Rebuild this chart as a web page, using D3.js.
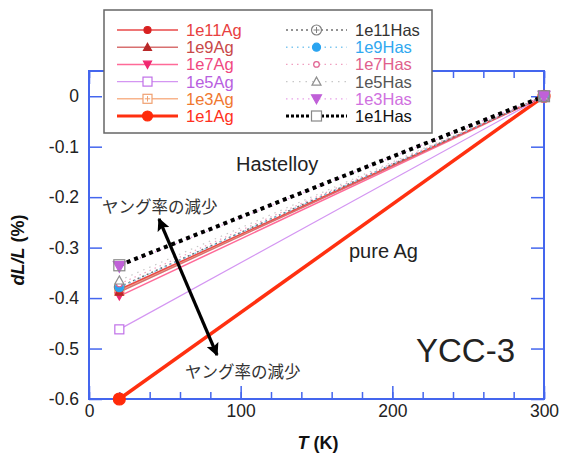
<!DOCTYPE html>
<html><head><meta charset="utf-8">
<script src="https://cdn.jsdelivr.net/npm/d3@7"></script>
<style>body{margin:0;background:#fff}svg{display:block}</style>
</head><body>
<svg id="c" width="561" height="453"></svg>
<script>
// Data
const temps = [20, 300];
const seriesNames = ["1e11Ag","1e9Ag","1e7Ag","1e5Ag","1e3Ag","1e1Ag","1e11Has","1e9Has","1e7Has","1e5Has","1e3Has","1e1Has"];
const startValues = [-0.383,-0.388,-0.396,-0.462,-0.385,-0.600,-0.378,-0.379,-0.372,-0.365,-0.337,-0.335];
const endValues   = [0,0,0,0,0,0,0,0,0,0,0,0];
const xTicks = [0,100,200,300];
const yTicks = [0,-0.1,-0.2,-0.3,-0.4,-0.5,-0.6];

// Styles
const styles = {
 "1e11Ag":{line:"#e84848",w:1.5,dash:null,mk:"circle",fill:"#d82020",stroke:"#d82020",ms:3.5,text:"#e84040"},
 "1e9Ag":{line:"#d87070",w:1.5,dash:null,mk:"triUp",fill:"#b82828",stroke:"#b82828",ms:4,text:"#c84848"},
 "1e7Ag":{line:"#ff6a98",w:1.5,dash:null,mk:"triDown",fill:"#f02870",stroke:"#f02870",ms:4,text:"#f04880"},
 "1e5Ag":{line:"#d496f2",w:1.2,dash:null,mk:"square",fill:"#fff",stroke:"#c070e8",ms:4.5,text:"#b860e0"},
 "1e3Ag":{line:"#f8b48c",w:1.5,dash:null,mk:"squareX",fill:"#fff",stroke:"#f0a070",ms:4.5,text:"#f07830"},
 "1e1Ag":{line:"#ff3010",w:3.5,dash:null,mk:"circle",fill:"#ff2a0a",stroke:"#ff2a0a",ms:6,text:"#ff3020"},
 "1e11Has":{line:"#707070",w:1.5,dash:"2,3",mk:"circleX",fill:"#fff",stroke:"#808080",ms:5,text:"#333"},
 "1e9Has":{line:"#80c8f0",w:1.5,dash:"1.5,4",mk:"circle",fill:"#2aa4f0",stroke:"#2aa4f0",ms:4,text:"#30a8f0"},
 "1e7Has":{line:"#f0a0c0",w:1.2,dash:"1.5,4",mk:"circle",fill:"#fff",stroke:"#e06090",ms:2.8,text:"#e0608c"},
 "1e5Has":{line:"#c8c8c8",w:1.2,dash:"1.5,5",mk:"triUp",fill:"#fff",stroke:"#909090",ms:4.5,text:"#555"},
 "1e3Has":{line:"#e8a0e8",w:1.2,dash:"1.5,4",mk:"triDown",fill:"#c060d8",stroke:"#c060d8",ms:6,text:"#d070e0"},
 "1e1Has":{line:"#000",w:4,dash:"4,4",mk:"square",fill:"none",stroke:"#888",ms:5.5,text:"#111"}
};

const svg = d3.select("#c");
const L = 89, R = 544, T = 71, B = 399;
const x = d3.scaleLinear().domain([0,300]).range([L,R]);
const y = d3.scaleLinear().domain([-0.6,0.05]).range([B,T]);
const axisColor = "#4466ee";
const font = "'Liberation Sans', Arial, Helvetica, sans-serif";
const fmtY = d => d===0 ? "0" : d3.format(".1f")(d).replace("\u2212","-");

// axes frame
const g = svg.append("g");
function styleAxis(sel){ sel.select(".domain").remove(); sel.selectAll("line").attr("stroke",axisColor).attr("stroke-width",1.5); sel.selectAll("text").attr("font-family",font).attr("font-size",17.5).attr("fill","#222"); }
g.append("g").attr("transform",`translate(0,${B})`).call(d3.axisBottom(x).tickValues(d3.range(0,301,20)).tickSize(-7).tickFormat(""))
 .call(styleAxis);
g.append("g").attr("transform",`translate(0,${B})`).call(d3.axisBottom(x).tickValues(xTicks).tickSize(-13).tickFormat(d3.format("d")))
 .call(styleAxis).selectAll("text").attr("dy","0.71em").attr("y",6);
g.append("g").attr("transform",`translate(0,${T})`).call(d3.axisTop(x).tickValues(d3.range(0,301,20)).tickSize(-7).tickFormat("")).call(styleAxis);
g.append("g").attr("transform",`translate(0,${T})`).call(d3.axisTop(x).tickValues(xTicks).tickSize(-13).tickFormat("")).call(styleAxis);
g.append("g").attr("transform",`translate(${L},0)`).call(d3.axisLeft(y).tickValues(yTicks).tickSize(-13).tickPadding(10).tickFormat(fmtY))
 .call(styleAxis);
g.append("g").attr("transform",`translate(${R},0)`).call(d3.axisRight(y).tickValues(yTicks).tickSize(-13).tickFormat("")).call(styleAxis);
g.append("rect").attr("x",L).attr("y",T).attr("width",R-L).attr("height",B-T).attr("fill","none").attr("stroke",axisColor).attr("stroke-width",2);

// markers
function marker(sel, st, cx, cy){
  const s = st.ms;
  let m;
  if(st.mk==="circle"||st.mk==="circleX"){
    m = sel.append("circle").attr("cx",cx).attr("cy",cy).attr("r",s);
  } else if(st.mk==="square"||st.mk==="squareX"){
    m = sel.append("rect").attr("x",cx-s).attr("y",cy-s).attr("width",2*s).attr("height",2*s);
  } else if(st.mk==="triUp"){
    m = sel.append("path").attr("d",`M${cx},${cy-s}L${cx+s},${cy+s*0.8}L${cx-s},${cy+s*0.8}Z`);
  } else {
    m = sel.append("path").attr("d",`M${cx},${cy+s}L${cx+s},${cy-s*0.8}L${cx-s},${cy-s*0.8}Z`);
  }
  m.attr("fill",st.fill).attr("stroke",st.stroke).attr("stroke-width",1.2);
  if(st.mk==="circleX"||st.mk==="squareX"){
    sel.append("path").attr("d",`M${cx-s*0.6},${cy}H${cx+s*0.6}M${cx},${cy-s*0.6}V${cy+s*0.6}`).attr("stroke",st.stroke).attr("stroke-width",1);
  }
}

// draw series
const order = [5,4,3,2,1,0,6,7,8,9,10,11];
const line = d3.line().x(d=>x(d[0])).y(d=>y(d[1]));
const plot = svg.append("g");
order.forEach(i=>{
  const name = seriesNames[i], st = styles[name];
  const pts = [[temps[0],startValues[i]],[temps[1],endValues[i]]];
  plot.append("path").attr("d",line(pts)).attr("fill","none").attr("stroke",st.line).attr("stroke-width",st.w).attr("stroke-dasharray",st.dash);
});
order.forEach(i=>{
  const name = seriesNames[i], st = styles[name];
  const pts = [[temps[0],startValues[i]],[temps[1],endValues[i]]];
  pts.forEach(p=>marker(plot, st, x(p[0]), y(p[1])));
});

// annotations
const ann = svg.append("g").attr("font-family",font).attr("fill","#222");
ann.append("text").attr("x",236).attr("y",171).attr("font-size",20).text("Hastelloy");
ann.append("text").attr("x",349).attr("y",258).attr("font-size",20).text("pure Ag");
ann.append("text").attr("x",416).attr("y",362).attr("font-size",33).text("YCC-3");
const jp = "'Noto Sans CJK JP', sans-serif";
ann.append("text").attr("x",102).attr("y",213).attr("font-family",jp).attr("font-size",16.5).attr("fill","#333").text("ヤング率の減少");
ann.append("text").attr("x",185).attr("y",378).attr("font-family",jp).attr("font-size",16.5).attr("fill","#333").text("ヤング率の減少");

// double arrow
const defs = svg.append("defs");
defs.append("marker").attr("id","ah").attr("viewBox","0 0 10 10").attr("refX",9).attr("refY",5)
  .attr("markerWidth",4).attr("markerHeight",4).attr("orient","auto-start-reverse")
  .append("path").attr("d","M0,0L10,5L0,10L2,5Z").attr("fill","#000");
svg.append("line").attr("x1",159).attr("y1",219).attr("x2",217).attr("y2",355)
  .attr("stroke","#000").attr("stroke-width",3.2).attr("marker-start","url(#ah)").attr("marker-end","url(#ah)");

// axis labels
const yl = svg.append("text").attr("transform","translate(24,250) rotate(-90)").attr("text-anchor","middle")
  .attr("font-family",font).attr("font-size",18).attr("font-weight","bold").attr("fill","#111");
yl.append("tspan").attr("font-style","italic").text("dL/L");
yl.append("tspan").text(" (%)");
const xl = svg.append("text").attr("x",318).attr("y",449).attr("text-anchor","middle")
  .attr("font-family",font).attr("font-size",18).attr("font-weight","bold").attr("fill","#111");
xl.append("tspan").attr("font-style","italic").text("T");
xl.append("tspan").text(" (K)");

// legend
const lg = svg.append("g");
lg.append("rect").attr("x",104).attr("y",10).attr("width",328).attr("height",123).attr("fill","#fff").attr("stroke","#666").attr("stroke-width",1.5);
seriesNames.forEach((name,i)=>{
  const st = styles[name];
  const col = i<6?0:1, row = i%6;
  const x0 = col===0?117:286, x1 = x0+61, cy = 30 + row*17.2;
  lg.append("line").attr("x1",x0).attr("x2",x1).attr("y1",cy).attr("y2",cy).attr("stroke",st.line)
    .attr("stroke-width",name==="1e1Has"?3:Math.min(st.w,3)).attr("stroke-dasharray",name==="1e1Has"?"3,2":st.dash);
  marker(lg, Object.assign({},st,{ms:Math.min(st.ms,5), fill: st.fill==="none"?"#fff":st.fill}), (x0+x1)/2, cy);
  lg.append("text").attr("x",x1+8).attr("y",cy).attr("dy","0.36em").attr("font-family",font).attr("font-size",16.5)
    .attr("fill",st.text).text(name);
});
</script>
</body></html>
